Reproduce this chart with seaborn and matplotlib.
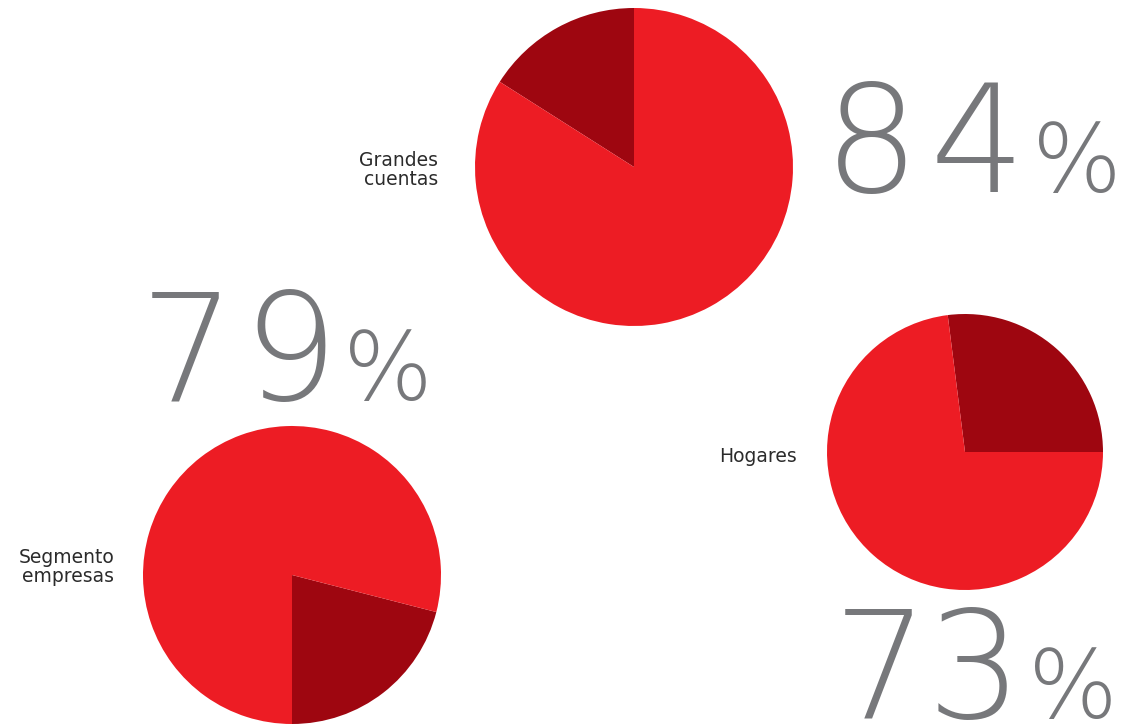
import matplotlib
matplotlib.use("Agg")
import matplotlib.pyplot as plt
import seaborn as sns

sns.set_theme(style="white")
plt.rcParams['font.family'] = ['DejaVu Sans']

# Data
segments = ["Grandes\ncuentas", "Hogares", "Segmento\nempresas"]
shares = [84, 73, 79]          # percent (bright red)
start_angles = [90, 0, 270]    # where the complementary wedge starts

# Layout (pixel space, y measured from bottom)
centers = [(634, 558), (965, 273), (292, 150)]
radii = [159, 138, 149]
label_pos = [(438, 555), (797, 269), (114, 158)]
number_base = [533, 7, 325]
digit_x = [(872, 977), (880, 974), (187, 290)]
pct_x = [1077, 1073, 388]

bright = "#ED1C24"
dark = "#9E0610"
gray = "#77787B"

fig = plt.figure(figsize=(11.26, 7.25), dpi=100)
ax = fig.add_axes([0, 0, 1, 1])

for share, sa, c, r in zip(shares, start_angles, centers, radii):
    ax.pie([100 - share, share], colors=[dark, bright], startangle=sa,
           counterclock=True, center=c, radius=r,
           wedgeprops=dict(linewidth=0))

ax.set_xlim(0, 1126)
ax.set_ylim(0, 725)
ax.set_aspect("equal")
ax.axis("off")

for lab, (x, y) in zip(segments, label_pos):
    ax.text(x, y, lab, ha="right", va="center", fontsize=13.5,
            color="#2b2b2b", linespacing=1.0)

for share, y, dxs, px in zip(shares, number_base, digit_x, pct_x):
    for ch, dx in zip(str(share), dxs):
        ax.text(dx, y, ch, ha="center", va="baseline", fontsize=108,
                color=gray, fontweight=200)
    ax.text(px, y, "%", ha="center", va="baseline", fontsize=68,
            color=gray, fontweight=200)

fig.savefig("out.png", dpi=100)
